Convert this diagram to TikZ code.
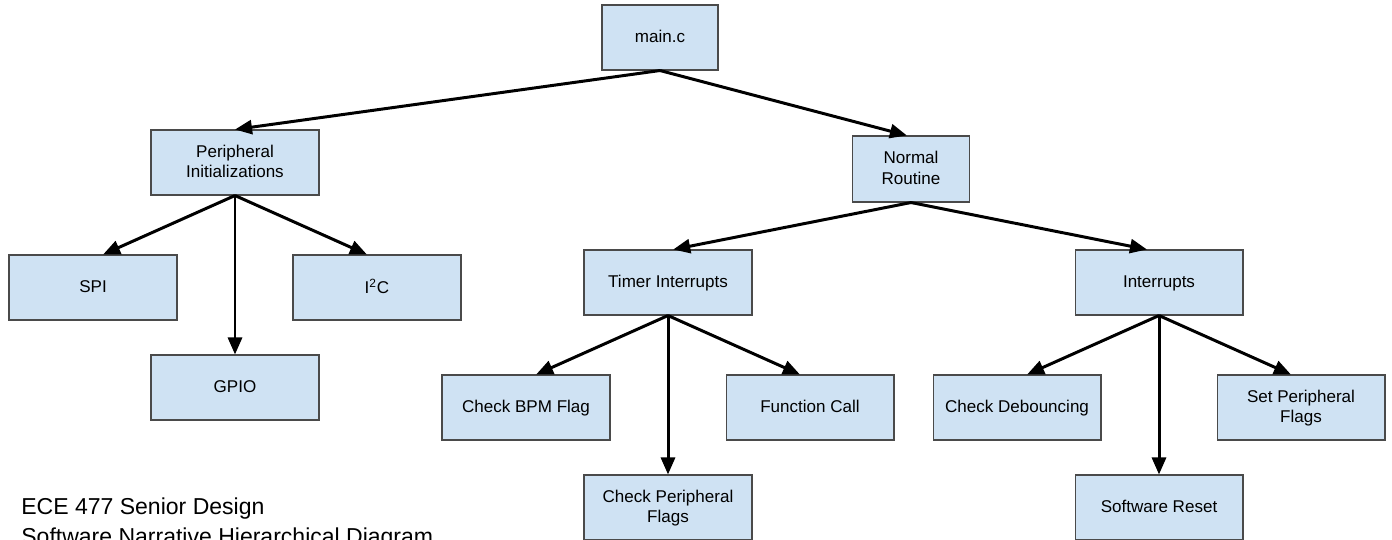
\documentclass[tikz,border=0pt]{standalone}
\usepackage{fontspec}
\setmainfont{Liberation Sans}
\usetikzlibrary{arrows.meta}
\definecolor{boxblue}{HTML}{CFE2F3}
\definecolor{boxline}{HTML}{4A4A4A}

\begin{document}
\begin{tikzpicture}[x=0.02cm, y=-0.02cm,
        >={Triangle[length=0.34cm, width=0.28cm]},
        block/.style={draw=boxline, fill=boxblue, line width=0.6pt, inner sep=0pt,
            minimum width=3.36cm, minimum height=1.3cm, align=center, text depth=0.25ex,
            font=\fontsize{9.7}{11.8}\selectfont},
        link/.style={->, line width=1.7pt}]
    \useasboundingbox (0, 0) rectangle (1392, 539);
    % top levels
    \node[block, minimum width=2.32cm] (main) at (660, 37.5) {main.c};
    \node[block] (pinit) at (235, 162.5) {Peripheral\\Initializations};
    \node[block, minimum width=2.34cm, minimum height=1.32cm] (normal) at (911, 169) {Normal\\Routine};
    % peripheral branch
    \node[block] (spi) at (93, 287.5) {SPI};
    \node[block] (i2c) at (377, 287.5) {I\textsuperscript{2}C};
    \node[block] (gpio) at (235, 387.5) {GPIO};
    % routine branch
    \node[block] (timer) at (668, 282.5) {Timer Interrupts};
    \node[block] (intr) at (1159, 282.5) {Interrupts};
    \node[block] (bpm) at (526, 407.5) {Check BPM Flag};
    \node[block] (fcall) at (810, 407.5) {Function Call};
    \node[block] (chkflags) at (668, 507.5) {Check Peripheral\\Flags};
    \node[block] (debounce) at (1017, 407.5) {Check Debouncing};
    \node[block] (setflags) at (1301, 407.5) {Set Peripheral\\Flags};
    \node[block] (reset) at (1159, 507.5) {Software Reset};
    \node[anchor=north west, align=left, inner sep=0pt, font=\fontsize{13.1}{17.6}\selectfont]
        (title) at (21, 497) {ECE 477 Senior Design\\Software Narrative Hierarchical Diagram};
    % arrows
    \draw[link] (main.south) -- (pinit.north);
    \draw[link] (main.south) -- (normal.97);
    \draw[link] (pinit.south) -- (spi.73);
    \draw[link] (pinit.south) -- (gpio.north);
    \draw[link] (pinit.south) -- (i2c.107);
    \draw[link] (normal.south) -- (timer.81);
    \draw[link] (normal.south) -- (intr.110);
    \draw[link] (timer.south) -- (bpm.73);
    \draw[link] (timer.south) -- (chkflags.north);
    \draw[link] (timer.south) -- (fcall.107);
    \draw[link] (intr.south) -- (debounce.73);
    \draw[link] (intr.south) -- (reset.north);
    \draw[link] (intr.south) -- (setflags.107);
\end{tikzpicture}
\end{document}
